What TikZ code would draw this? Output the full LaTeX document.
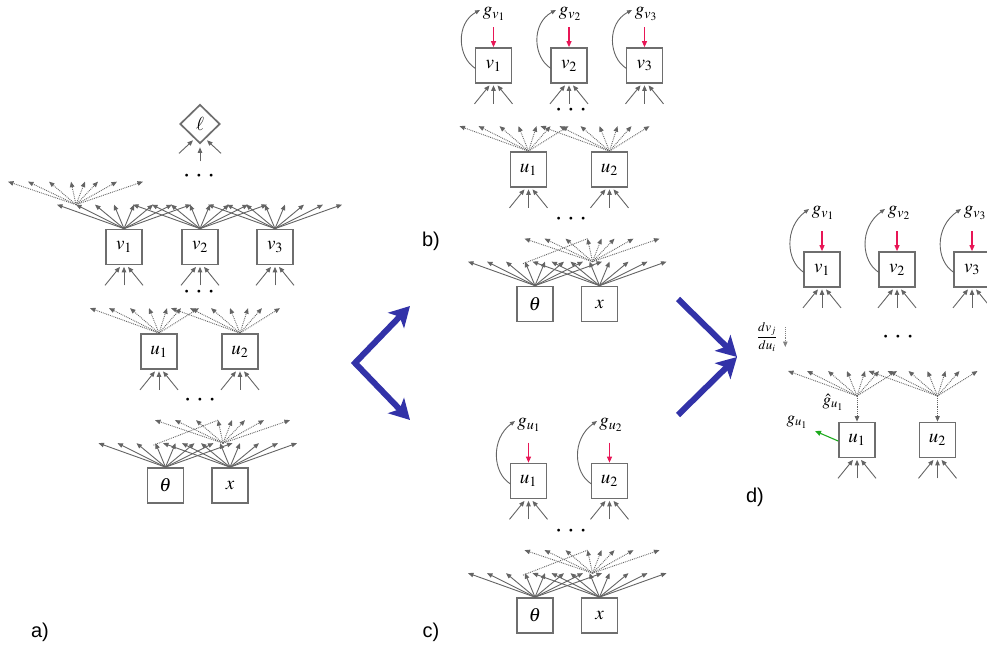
\documentclass[tikz,border=0pt]{standalone}
\usepackage{mathptmx}
\usepackage[no-math]{fontspec}
\newfontfamily\labfont{Liberation Sans}
\usetikzlibrary{arrows.meta,calc,shapes.geometric}
\definecolor{boxc}{RGB}{110,110,110}
\definecolor{arrc}{RGB}{100,100,100}
\definecolor{dotc}{RGB}{130,130,130}
\definecolor{redc}{RGB}{232,22,86}
\definecolor{greenc}{RGB}{30,170,30}
\definecolor{bluec}{RGB}{50,50,168}
\newcommand\solidfan[1]{\foreach \d in {-67,-48,-29,-10,10,29,48,67}{\draw[arr] (#1) -- ++(\d,-24);}}
\newcommand\ufan[1]{\foreach \d in {-69,-50,-29,-10,8,22,40}{\draw[darr] (#1) -- ++(\d,-25);}}
\newcommand\sfan[1]{\foreach \d in {-68,-48,-27,-5,9,22,41,67}{\draw[darr] (#1) -- ++(\d,-23);}}
\newcommand\inarr[1]{%
  \draw[arr] ($(#1.south)+(-19,20)$) -- ($(#1.south)+(-4,1.5)$);
  \draw[arr] ($(#1.south)+(0,20)$) -- ($(#1.south)+(0,1.5)$);
  \draw[arr] ($(#1.south)+(19,20)$) -- ($(#1.south)+(4,1.5)$);}
\newcommand\gloop[2]{%
  \draw[redarr] ($(#1.north)+(0,-20)$) -- (#1.north);
  \draw[curv] ($(#1)+(-18,3)$) .. controls ($(#1)+(-36,-8)$) and ($(#1)+(-38,-42)$) .. ($(#2)+(-14,-4)$);}
\newcommand\dotrow{$\bullet\hspace{7.5pt}\bullet\hspace{7.5pt}\bullet$}
\begin{document}
\begin{tikzpicture}[x=1pt,y=-1pt,
  box/.style={draw=boxc, line width=1.7pt, minimum width=36pt, minimum height=35pt, inner sep=0pt, font=\fontsize{19}{22}\selectfont},
  arr/.style={draw=arrc, line width=0.9pt, -{Triangle[length=5.5pt,width=4.5pt]}},
  darr/.style={arr, densely dotted},
  dline/.style={draw=arrc, line width=0.9pt, densely dotted},
  redarr/.style={draw=redc, line width=1.1pt, -{Triangle[length=6pt,width=5pt]}},
  greenarr/.style={draw=greenc, line width=1.1pt, -{Triangle[length=6pt,width=5pt]}},
  curv/.style={draw=arrc, line width=0.9pt, -{Triangle[length=5pt,width=4pt]}},
  glab/.style={font=\fontsize{19}{22}\selectfont, inner sep=0pt},
  dotsn/.style={font=\fontsize{7.5}{8}\selectfont, inner sep=0pt, text=black},
  plab/.style={font=\labfont\fontsize{20}{24}\selectfont, inner sep=0pt},
  bigarr/.style={draw=bluec, line width=6pt, line join=miter},
]
\useasboundingbox (0,0) rectangle (987,647);

% ---------------- panel a ----------------
\node[diamond, draw=boxc, line width=1.7pt, minimum width=40pt, minimum height=39pt, inner sep=0pt, font=\fontsize{19}{20}\selectfont] (ell) at (200,124) {$\ell$};
\draw[arr] ($(ell.south)+(-21,9)$) -- ($(ell.south)+(-7,-4)$);
\draw[arr] ($(ell.south)+(0,17)$) -- ($(ell.south)+(0,3)$);
\draw[arr] ($(ell.south)+(21,9)$) -- ($(ell.south)+(7,-4)$);
\node[dotsn] (dota1) at (199,176) {\dotrow};
\node[box] (va1) at (124,247) {$v_1$};
\node[box] (va2) at (200,247) {$v_2$};
\node[box] (va3) at (275,247) {$v_3$};
\foreach \n in {va1,va2,va3}{\solidfan{\n.north}\inarr{\n}}
\coordinate (fa) at ($(va1.north)+(-48,-24)$);
\sfan{fa}
\node[dotsn] (dota2) at (199,292) {\dotrow};
\node[box] (ua1) at (159,351.5) {$u_1$};
\node[box] (ua2) at (240,351.5) {$u_2$};
\foreach \n in {ua1,ua2}{\ufan{\n.north}\inarr{\n}}
\node[dotsn] (dota3) at (200,400) {\dotrow};
\node[box] (tha) at (165.5,485.5) {$\theta$};
\node[box] (xa) at (230,485.5) {$x$};
\solidfan{tha.north}
\solidfan{xa.north}
\coordinate (fxa) at ($(xa.north)+(-7,-24)$);
\sfan{fxa}
\draw[dline] ($(tha.north)+(-12,-22)$) -- ($(fxa)+(-5,-23)$);

% ---------------- panel b ----------------
\node[box] (vb1) at (493.5,65.5) {$v_1$};
\node[box] (vb2) at (569,65.5) {$v_2$};
\node[box] (vb3) at (644.5,65.5) {$v_3$};
\node[glab] (gb1) at (494,14) {$g_{v_1}$};
\node[glab] (gb2) at (570,14) {$g_{v_2}$};
\node[glab] (gb3) at (646,14) {$g_{v_3}$};
\gloop{vb1}{gb1}\gloop{vb2}{gb2}\gloop{vb3}{gb3}
\foreach \n in {vb1,vb2,vb3}{\inarr{\n}}
\node[dotsn] (dotb1) at (571,110) {\dotrow};
\node[box] (ub1) at (528.5,169.5) {$u_1$};
\node[box] (ub2) at (609.5,169.5) {$u_2$};
\foreach \n in {ub1,ub2}{\ufan{\n.north}\inarr{\n}}
\node[dotsn] (dotb2) at (571,219) {\dotrow};
\node[box] (thb) at (535,304) {$\theta$};
\node[box] (xb) at (599.5,304) {$x$};
\solidfan{thb.north}
\solidfan{xb.north}
\coordinate (fxb) at ($(xb.north)+(-7,-24)$);
\sfan{fxb}
\draw[dline] ($(thb.north)+(-12,-22)$) -- ($(fxb)+(-5,-23)$);

% ---------------- panel c ----------------
\node[box] (uc1) at (528.5,481) {$u_1$};
\node[box] (uc2) at (609.5,481) {$u_2$};
\node[glab] (gc1) at (529,425) {$g_{u_1}$};
\node[glab] (gc2) at (611,425) {$g_{u_2}$};
\gloop{uc1}{gc1}\gloop{uc2}{gc2}
\foreach \n in {uc1,uc2}{\inarr{\n}}
\node[dotsn] (dotc1) at (571,531) {\dotrow};
\node[box] (thc) at (535,615.5) {$\theta$};
\node[box] (xc) at (599.5,615.5) {$x$};
\solidfan{thc.north}
\solidfan{xc.north}
\coordinate (fxc) at ($(xc.north)+(-7,-24)$);
\sfan{fxc}
\draw[dline] ($(thc.north)+(-12,-22)$) -- ($(fxc)+(-5,-23)$);

% ---------------- panel d ----------------
\node[box] (vd1) at (822,269.5) {$v_1$};
\node[box] (vd2) at (897,269.5) {$v_2$};
\node[box] (vd3) at (972,269.5) {$v_3$};
\node[glab] (gd1) at (823,213) {$g_{v_1}$};
\node[glab] (gd2) at (899,213) {$g_{v_2}$};
\node[glab] (gd3) at (975,213) {$g_{v_3}$};
\gloop{vd1}{gd1}\gloop{vd2}{gd2}\gloop{vd3}{gd3}
\foreach \n in {vd1,vd2,vd3}{\inarr{\n}}
\node[dotsn] (dotd1) at (898,337) {\dotrow};
\node[font=\fontsize{13}{15}\selectfont, inner sep=0pt] (frac) at (767,337) {$\displaystyle\frac{dv_j}{du_i}$};
\draw[darr, draw=dotc] ($(frac.east)+(8,-10)$) -- ($(frac.east)+(8,10)$);
\node[box] (ud1) at (857,440) {$u_1$};
\node[box] (ud2) at (937.5,440) {$u_2$};
\coordinate (od1) at (857,396);
\coordinate (od2) at (937.5,396);
\ufan{od1}\ufan{od2}
\draw[darr] (od1) -- (ud1.north);
\draw[darr] (od2) -- (ud2.north);
\foreach \n in {ud1,ud2}{\inarr{\n}}
\node[glab, font=\fontsize{17}{19}\selectfont] (ghat) at (833,402) {$\hat{g}_{u_1}$};
\node[glab, font=\fontsize{17}{19}\selectfont] (gdu) at (797,422) {$g_{u_1}$};
\draw[greenarr] ($(ud1.west)+(0,1)$) -- ($(gdu)+(18,9)$);

% ---------------- blue arrows ----------------
\coordinate (bl0) at (355,363);
\coordinate (blu) at (410,306);
\coordinate (bld) at (410,420);
\draw[bigarr, {Stealth[length=20pt,width=22pt,inset=5pt]}-{Stealth[length=20pt,width=22pt,inset=5pt]}] (blu) -- (bl0) -- (bld);
\coordinate (br1) at (678,299);
\coordinate (br2) at (678,415);
\coordinate (brt) at (737,357);
\draw[bigarr, -{Stealth[length=20pt,width=22pt,inset=5pt]}] (br1) -- (brt);
\draw[bigarr, -{Stealth[length=20pt,width=22pt,inset=5pt]}] (br2) -- (brt);

% ---------------- labels ----------------
\node[plab] (la) at (40,632) {a)};
\node[plab] (lb) at (431,241) {b)};
\node[plab] (lc) at (431,632) {c)};
\node[plab] (ld) at (755,497) {d)};
\end{tikzpicture}
\end{document}
